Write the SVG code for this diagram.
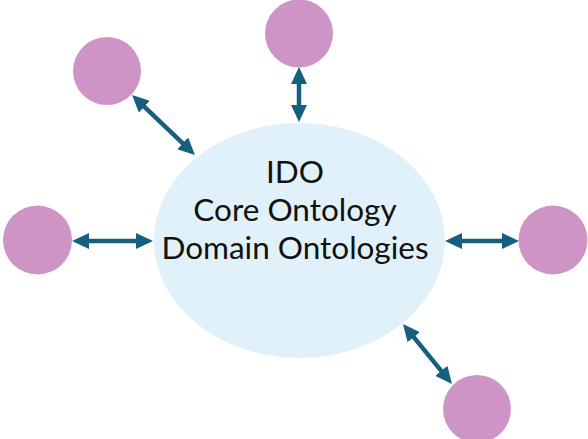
<svg xmlns="http://www.w3.org/2000/svg" width="588" height="439" viewBox="0 0 588 439">
<style>
.sat{fill:#cf94c6}
.core{fill:#e0f1f9}
.lbl{font-family:Lato,"Open Sans",sans-serif;font-size:31.5px;fill:#111;text-anchor:middle}
.conn line{stroke:#175f80;stroke-width:4.5;marker-start:url(#ah);marker-end:url(#ah)}
</style>
<defs>
<marker id="ah" viewBox="0 0 17 16" refX="2" refY="8" markerWidth="17" markerHeight="16" markerUnits="userSpaceOnUse" orient="auto-start-reverse">
<path d="M0,0 L17,8 L0,16 z" fill="#175f80"/>
</marker>
</defs>
<rect width="588" height="439" fill="#fff"/>
<g id="core">
<ellipse class="core" cx="299.5" cy="240.5" rx="145.5" ry="117.5"/>
<text class="lbl" x="295" y="183">IDO</text>
<text class="lbl" x="295" y="221">Core Ontology</text>
<text class="lbl" x="295" y="259">Domain Ontologies</text>
</g>
<g id="n-top"><circle class="sat" cx="299" cy="33.5" r="34"/></g>
<g id="n-upleft"><circle class="sat" cx="107" cy="71" r="34"/></g>
<g id="n-left"><circle class="sat" cx="37.5" cy="240" r="34.5"/></g>
<g id="n-right"><circle class="sat" cx="553" cy="240" r="34.5"/></g>
<g id="n-botright"><circle class="sat" cx="477" cy="409" r="34"/></g>
<g class="conn" id="connectors">
<line x1="299" y1="82" x2="299" y2="107"/>
<line x1="87" y1="241" x2="138" y2="241"/>
<line x1="460" y1="241" x2="504" y2="241"/>
<line x1="142.9" y1="105.3" x2="184.1" y2="144.7"/>
<line x1="412.5" y1="335.6" x2="442.5" y2="372.4"/>
</g>
</svg>
